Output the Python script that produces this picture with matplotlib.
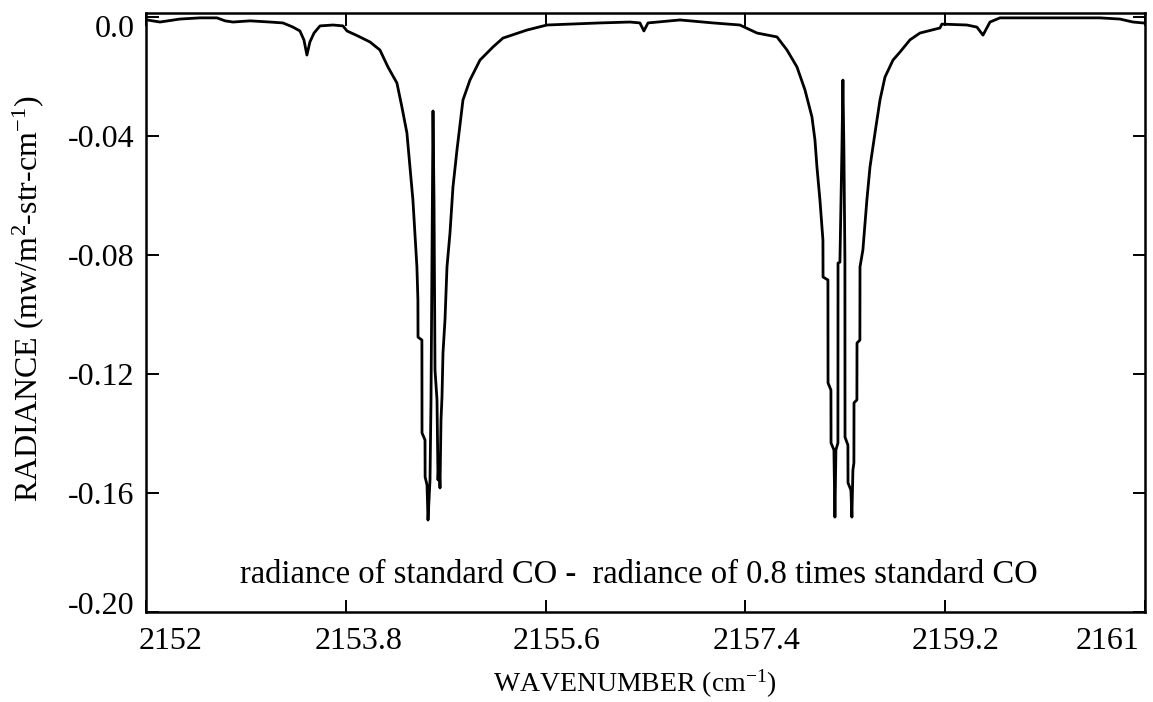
import numpy as np
import matplotlib
matplotlib.use("Agg")
import matplotlib.pyplot as plt
from matplotlib.transforms import ScaledTranslation

plt.rcParams['font.family'] = ['Liberation Serif', 'DejaVu Serif']
plt.rcParams['mathtext.fontset'] = 'custom'
plt.rcParams['mathtext.rm'] = 'Liberation Serif'
plt.rcParams['mathtext.it'] = 'Liberation Serif:italic'

wavenumber = [
    2152.009, 2152.126, 2152.306, 2152.486, 2152.640, 2152.712, 2152.784, 2152.937,
    2153.117, 2153.234, 2153.324, 2153.387, 2153.423, 2153.450, 2153.477, 2153.514,
    2153.568, 2153.685, 2153.775, 2153.811, 2153.910, 2154.018, 2154.108, 2154.180,
    2154.261, 2154.306, 2154.351, 2154.378, 2154.405, 2154.423, 2154.441, 2154.450,
    2154.451, 2154.486, 2154.487, 2154.514, 2154.515, 2154.532, 2154.541, 2154.559,
    2154.568, 2154.577, 2154.586, 2154.595, 2154.604, 2154.622, 2154.631, 2154.640,
    2154.649, 2154.658, 2154.667, 2154.676, 2154.694, 2154.712, 2154.739, 2154.766,
    2154.802, 2154.856, 2154.919, 2155.009, 2155.126, 2155.216, 2155.432, 2155.613,
    2155.820, 2156.090, 2156.360, 2156.450, 2156.486, 2156.523, 2156.811, 2157.108,
    2157.351, 2157.505, 2157.685, 2157.775, 2157.865, 2157.937, 2158.000, 2158.027,
    2158.045, 2158.072, 2158.099, 2158.100, 2158.144, 2158.145, 2158.171, 2158.172,
    2158.198, 2158.207, 2158.216, 2158.234, 2158.235, 2158.252, 2158.270, 2158.279,
    2158.288, 2158.297, 2158.298, 2158.324, 2158.325, 2158.351, 2158.360, 2158.369,
    2158.378, 2158.379, 2158.405, 2158.406, 2158.432, 2158.433, 2158.459, 2158.495,
    2158.523, 2158.568, 2158.613, 2158.658, 2158.730, 2158.793, 2158.883, 2158.973,
    2159.153, 2159.171, 2159.396, 2159.486, 2159.541, 2159.604, 2159.694, 2160.144,
    2160.595, 2160.775, 2160.892, 2160.982,
]
radiance = [
    -0.0010, -0.0017, -0.0007, -0.0003, -0.0003, -0.0013, -0.0017, -0.0013,
    -0.0017, -0.0020, -0.0034, -0.0047, -0.0077, -0.0128, -0.0084, -0.0054,
    -0.0030, -0.0027, -0.0030, -0.0047, -0.0064, -0.0084, -0.0111, -0.0168,
    -0.0222, -0.0303, -0.0390, -0.0504, -0.0615, -0.0726, -0.0840, -0.0951,
    -0.1076, -0.1086, -0.1398, -0.1422, -0.1546, -0.1573, -0.1691, -0.1556,
    -0.1287, -0.0783, -0.0316, -0.0615, -0.1187, -0.1287, -0.1556, -0.1489,
    -0.1583, -0.1355, -0.1277, -0.1129, -0.1018, -0.0840, -0.0726, -0.0571,
    -0.0447, -0.0279, -0.0212, -0.0145, -0.0101, -0.0071, -0.0044, -0.0027,
    -0.0024, -0.0020, -0.0017, -0.0020, -0.0047, -0.0020, -0.0010, -0.0020,
    -0.0027, -0.0054, -0.0067, -0.0111, -0.0168, -0.0245, -0.0336, -0.0413,
    -0.0504, -0.0615, -0.0750, -0.0874, -0.0884, -0.1230, -0.1254, -0.1432,
    -0.1455, -0.1681, -0.1455, -0.1432, -0.0827, -0.0824, -0.0447, -0.0212,
    -0.0447, -0.0817, -0.1412, -0.1439, -0.1566, -0.1590, -0.1681, -0.1523,
    -0.1499, -0.1297, -0.1287, -0.1096, -0.1086, -0.0840, -0.0783, -0.0615,
    -0.0504, -0.0390, -0.0279, -0.0202, -0.0145, -0.0118, -0.0077, -0.0054,
    -0.0037, -0.0024, -0.0027, -0.0034, -0.0061, -0.0017, -0.0003, -0.0003,
    -0.0003, -0.0007, -0.0017, -0.0020,
]

x_ticks = [2152, 2153.8, 2155.6, 2157.4, 2159.2, 2161]
x_ticklabels = ['2152', '2153.8', '2155.6', '2157.4', '2159.2', '2161']
y_ticks = [0.0, -0.04, -0.08, -0.12, -0.16, -0.20]
y_ticklabels = ['0.0', '-0.04', '-0.08', '-0.12', '-0.16', '-0.20']

fig = plt.figure(figsize=(11.53, 7.02), dpi=100)
ax = fig.add_axes([0.1266, 0.1282, 0.8664, 0.8533])

ax.plot(wavenumber, radiance, color='black', lw=2.0)

ax.set_xlim(2152, 2161)
ax.set_ylim(-0.2, 0.00134)

ax.set_xticks(x_ticks)
ax.set_xticklabels(x_ticklabels)
ax.set_yticks(y_ticks)
ax.set_yticklabels(y_ticklabels)
ax.tick_params(direction='in', length=9, width=1.4, top=True, right=True,
               labelsize=23, pad=8)
ax.tick_params(axis='x', pad=11)

for s in ax.spines.values():
    s.set_linewidth(1.8)

# nudge tick labels like the original figure
x_shift = [0.25, 0.13, 0.11, 0.11, 0.10, -0.37]
for lab, dx in zip(ax.get_xticklabels(), x_shift):
    lab.set_transform(lab.get_transform() + ScaledTranslation(dx, 0, fig.dpi_scale_trans))
y_shift = [-0.09, 0, 0, 0, 0, 0.09]
for lab, dy in zip(ax.get_yticklabels(), y_shift):
    lab.set_transform(lab.get_transform() + ScaledTranslation(0, dy, fig.dpi_scale_trans))

fig.text(635 / 1153, 1 - 684 / 702, 'WAVENUMBER (cm$^{-1}$)', fontsize=20,
         ha='center', va='center')
fig.text(28 / 1153, 1 - 299 / 702, 'RADIANCE (mw/m$^{2}$-str-cm$^{-1}$)', fontsize=23,
         ha='center', va='center', rotation=90)

ax.text(0.4935, 0.062, 'radiance of standard CO -  radiance of 0.8 times standard CO',
        transform=ax.transAxes, ha='center', va='center', fontsize=23.5)

fig.savefig('out.png', dpi=100, facecolor='white')
